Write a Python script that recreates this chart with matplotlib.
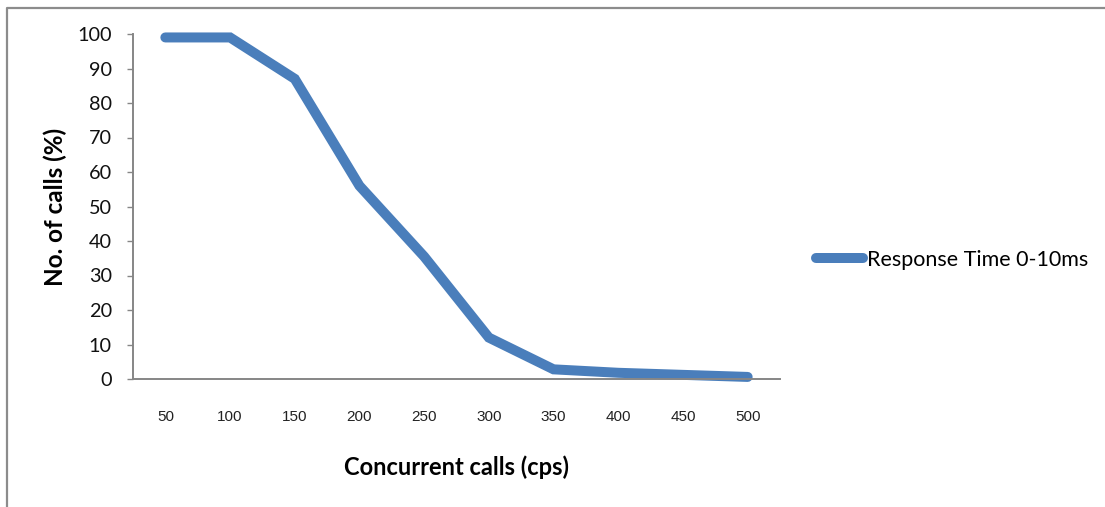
import matplotlib
matplotlib.use("Agg")
import matplotlib.pyplot as plt
from matplotlib.lines import Line2D

# Data
categories = ["50", "100", "150", "200", "250", "300", "350", "400", "450", "500"]
response_0_10ms = [99, 99, 87, 56, 35.5, 12, 2.8, 1.8, 1.2, 0.6]
series_name = "Response Time 0-10ms"
y_ticks = [0, 10, 20, 30, 40, 50, 60, 70, 80, 90, 100]

W, H, DPI = 1105, 507, 100
fig = plt.figure(figsize=(W / DPI, H / DPI), dpi=DPI)
fig.patch.set_facecolor("white")

axis_gray = "#868686"
line_blue = "#4A7EBB"

ax = fig.add_axes([133 / W, 1 - 379 / H, (780 - 133) / W, (379 - 34) / H])
x = list(range(len(categories)))
ax.plot(x, response_0_10ms, color=line_blue, linewidth=7.2,
        solid_capstyle="round", solid_joinstyle="miter", label=series_name)

ax.set_xlim(-0.5, len(categories) - 0.5)
ax.set_ylim(0, 100)
ax.set_yticks(y_ticks)
ax.set_xticks(x)
ax.set_xticklabels(categories, fontfamily="Liberation Sans", fontsize=11, color="#222222")
for lbl in ax.get_yticklabels():
    lbl.set_fontfamily("Lato")
    lbl.set_fontsize(14.3)
    lbl.set_color("#111111")

for side in ("top", "right"):
    ax.spines[side].set_visible(False)
for side in ("left", "bottom"):
    ax.spines[side].set_color(axis_gray)
    ax.spines[side].set_linewidth(1.4)
ax.spines["left"].set_zorder(0)
ax.tick_params(axis="y", direction="out", length=4.3, width=1.0, color=axis_gray, pad=11)
ax.tick_params(axis="x", length=0, pad=22)
for ln in ax.get_lines():
    ln.set_clip_on(False)

# Axis titles
fig.text(55 / W, 1 - 207 / H, "No. of calls (%)", rotation=90, ha="center", va="center",
         fontfamily="Lato", fontweight="bold", fontsize=17.5, color="#000000")
fig.text(457 / W, 1 - 467 / H, "Concurrent calls (cps)", ha="center", va="center",
         fontfamily="Lato", fontweight="bold", fontsize=17, color="#000000")

# Legend
fig.legend(handles=ax.get_lines(), labels=[series_name], loc="center left",
           bbox_to_anchor=(816 / W, 1 - 260 / H), frameon=False,
           prop={"family": "Lato", "size": 15.5}, handlelength=2.2,
           handletextpad=0.15, borderpad=0, borderaxespad=0)

# Chart frame
fig.add_artist(Line2D([7 / W, 7 / W, 1.0], [0.0, 1 - 8 / H, 1 - 8 / H],
                      transform=fig.transFigure, color="#8c8c8c", linewidth=1.6))

fig.savefig("out.png", dpi=DPI, facecolor="white")
